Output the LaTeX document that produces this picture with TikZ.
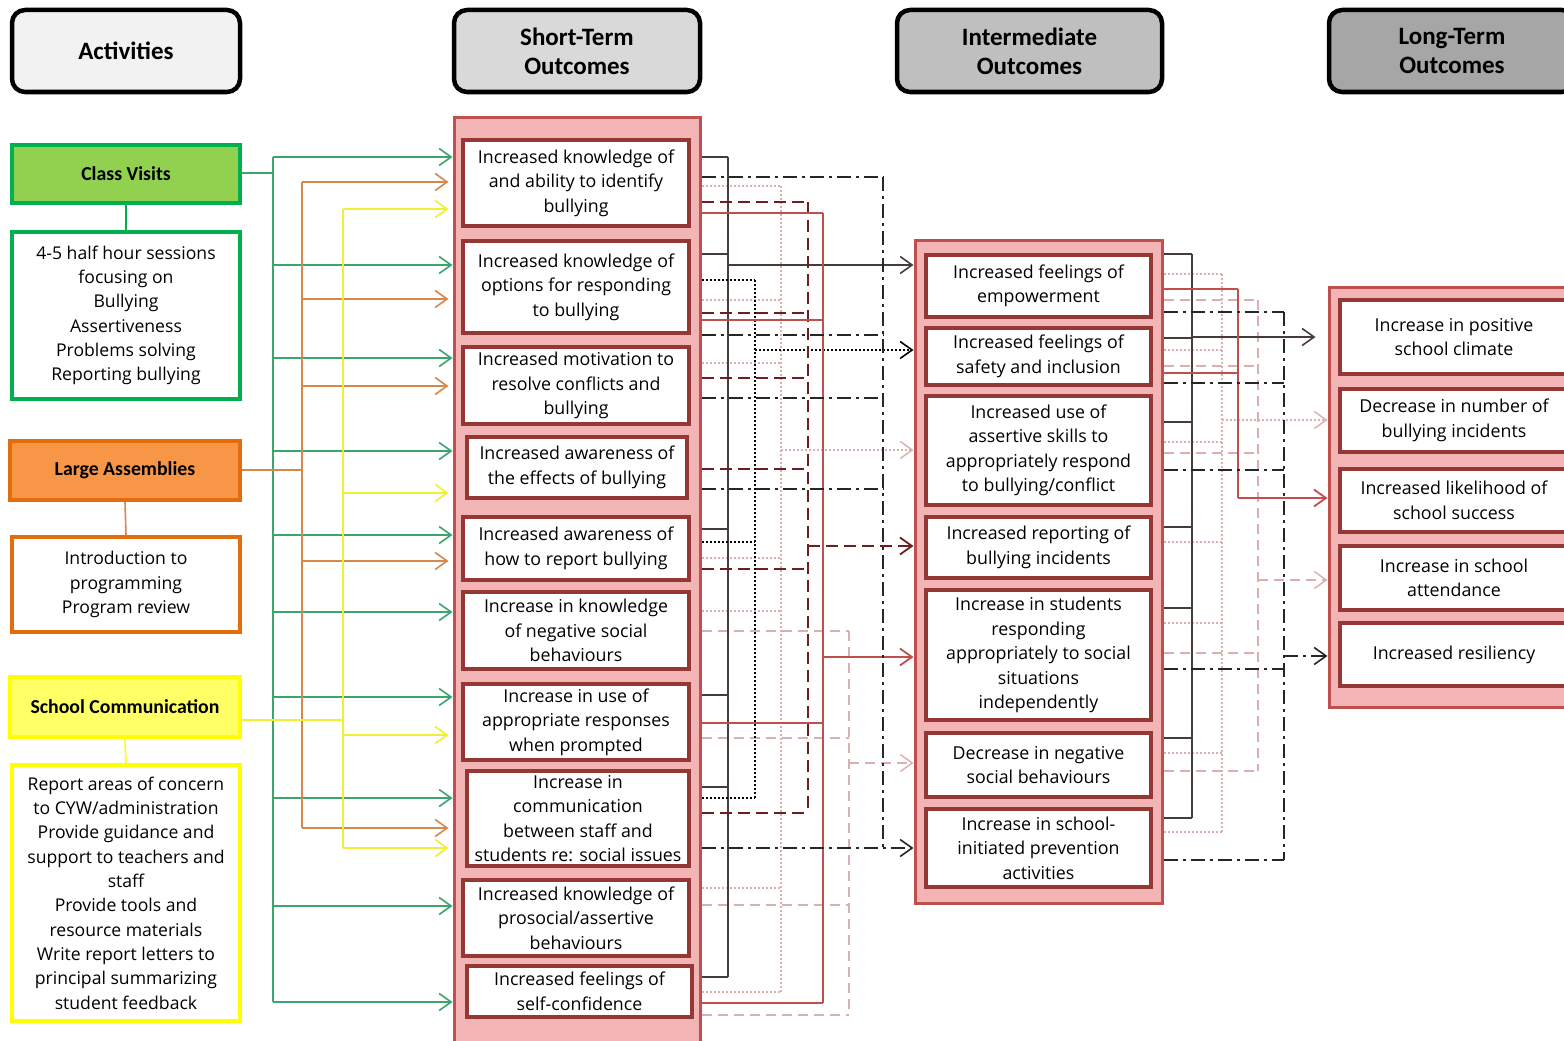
\documentclass[tikz,border=0pt]{standalone}
\usepackage{fontspec}
\setmainfont{Open Sans}
\newfontfamily\hdfont{Carlito}
\usetikzlibrary{arrows.meta}
\definecolor{hA}{RGB}{242,242,242}
\definecolor{hS}{RGB}{217,217,217}
\definecolor{hI}{RGB}{191,191,191}
\definecolor{hL}{RGB}{166,166,166}
\definecolor{cvf}{RGB}{146,208,80}
\definecolor{cvb}{RGB}{0,176,80}
\definecolor{laf}{RGB}{247,150,70}
\definecolor{lab}{RGB}{228,108,10}
\definecolor{scf}{RGB}{255,255,102}
\definecolor{scb}{RGB}{255,255,0}
\definecolor{contf}{RGB}{242,180,180}
\definecolor{contb}{RGB}{192,80,77}
\definecolor{obord}{RGB}{149,55,53}
\definecolor{grn}{RGB}{60,165,110}
\definecolor{org}{RGB}{214,135,75}
\definecolor{ylw}{RGB}{240,240,50}
\definecolor{dk}{RGB}{70,60,60}
\definecolor{dred}{RGB}{110,30,30}
\definecolor{rd}{RGB}{192,80,77}
\definecolor{pale}{RGB}{220,175,175}
\begin{document}
\begin{tikzpicture}[x=1pt,y=-1pt,
  hdr/.style={draw=black,line width=4.5pt,rounded corners=13pt,align=center,inner sep=0pt,font=\hdfont\fontsize{25}{29}\selectfont\bfseries},
  ttl/.style={line width=3.5pt,inner sep=0pt,font=\hdfont\fontsize{19.8}{24}\selectfont\bfseries},
  det/.style={fill=white,line width=3.5pt,align=center,inner sep=0pt,font=\fontsize{17.6}{24.3}\selectfont},
  cont/.style={draw=contb,fill=contf,line width=3pt,inner sep=0pt},
  ob/.style={draw=obord,fill=white,line width=4pt,align=center,inner sep=0pt,font=\fontsize{17.8}{24.5}\selectfont},
  arr/.style={-{Straight Barb[length=12pt,width=17pt]}},
  gln/.style={draw=grn,line width=1.6pt},
  oln/.style={draw=org,line width=1.6pt},
  yln/.style={draw=ylw,line width=1.6pt},
  sA/.style={draw=dk,line width=1.6pt},
  sB/.style={draw=black,line width=1.6pt,dash pattern=on 2pt off 2pt},
  sC/.style={draw=dred,line width=1.8pt,dash pattern=on 12pt off 6pt},
  sD/.style={draw=rd,line width=1.8pt},
  sE/.style={draw=black!85,line width=1.6pt,dash pattern=on 14pt off 5pt on 3pt off 5pt},
  sF/.style={draw=pale,line width=1.4pt,dash pattern=on 2pt off 2pt},
  sG/.style={draw=pale,line width=1.4pt,dash pattern=on 10pt off 6pt},
]
\useasboundingbox (0,0) rectangle (1564,1041);
\fill[white] (0,0) rectangle (1564,1041);

% headers
\node[hdr,fill=hA,minimum width=228pt,minimum height=82pt] (hAct) at (126,51) {Activities};
\node[hdr,fill=hS,minimum width=246pt,minimum height=82pt] (hST) at (577,51) {Short-Term\\Outcomes};
\node[hdr,fill=hI,minimum width=265pt,minimum height=82pt] (hIM) at (1029.5,51) {Intermediate\\Outcomes};
\node[hdr,fill=hL,minimum width=246pt,minimum height=82pt] (hLT) at (1452,51) {Long-Term\\Outcomes};

% activities
\node[ttl,draw=cvb,fill=cvf,minimum width=228pt,minimum height=58pt] (cv) at (126,174) {Class Visits};
\node[det,draw=cvb,minimum width=228pt,minimum height=167pt] (cvd) at (126,315.5) {4-5 half hour sessions\\focusing on\\Bullying\\Assertiveness\\Problems solving\\Reporting bullying};
\node[ttl,draw=lab,fill=laf,minimum width=230pt,minimum height=59pt] (la) at (125,470.5) {Large Assemblies};
\node[det,draw=lab,minimum width=228pt,minimum height=95pt] (lad) at (126,584.5) {Introduction to\\programming\\Program review};
\node[ttl,draw=scb,fill=scf,minimum width=230pt,minimum height=60pt] (sc) at (125,707) {School Communication};
\node[det,draw=scb,minimum width=228pt,minimum height=256pt] (scd) at (126,893) {Report areas of concern\\to CYW/administration\\Provide guidance and\\support to teachers and\\staff\\Provide tools and\\resource materials\\Write report letters to\\principal summarizing\\student feedback};
\draw[draw=cvb,line width=1.6pt] (cv.south) -- (cvd.north);
\draw[draw=org,line width=1.6pt] (la.south) -- (lad.north);
\draw[draw=scb,line width=1.6pt] (sc.south) -- (scd.north);

% containers
\node[cont,minimum width=246pt,minimum height=930pt] (stc) at (577,582) {};
\node[cont,minimum width=247pt,minimum height=663pt] (imc) at (1038.5,571.5) {};
\node[cont,minimum width=251pt,minimum height=420pt] (ltc) at (1454.5,497) {};

% short-term boxes
\node[ob,minimum width=226pt,minimum height=86pt] (st1) at (576,183) {Increased knowledge of\\and ability to identify\\bullying};
\node[ob,minimum width=226pt,minimum height=92pt] (st2) at (576,287) {Increased knowledge of\\options for responding\\to bullying};
\node[ob,minimum width=226pt,minimum height=77pt] (st3) at (576,385.5) {Increased motivation to\\resolve conflicts and\\bullying};
\node[ob,minimum width=220pt,minimum height=61pt] (st4) at (577,467.5) {Increased awareness of\\the effects of bullying};
\node[ob,minimum width=226pt,minimum height=63pt] (st5) at (576,548.5) {Increased awareness of\\how to report bullying};
\node[ob,minimum width=226pt,minimum height=77pt] (st6) at (576,630.5) {Increase in knowledge\\of negative social\\behaviours};
\node[ob,minimum width=226pt,minimum height=76pt] (st7) at (576,722) {Increase in use of\\appropriate responses\\when prompted};
\node[ob,minimum width=222pt,minimum height=95pt] (st8) at (578,818.5) {Increase in\\communication\\between staff and\\students re: social issues};
\node[ob,minimum width=226pt,minimum height=76pt] (st9) at (576,918) {Increased knowledge of\\prosocial/assertive\\behaviours};
\node[ob,minimum width=225pt,minimum height=51pt] (st10) at (579.5,991.5) {Increased feelings of\\self-confidence};

% intermediate boxes
\node[ob,minimum width=225pt,minimum height=62pt] (im1) at (1038.5,286) {Increased feelings of\\empowerment};
\node[ob,minimum width=225pt,minimum height=57pt] (im2) at (1038.5,356.5) {Increased feelings of\\safety and inclusion};
\node[ob,minimum width=225pt,minimum height=109pt] (im3) at (1038.5,450.5) {Increased use of\\assertive skills to\\appropriately respond\\to bullying/conflict};
\node[ob,minimum width=225pt,minimum height=61pt] (im4) at (1038.5,547.5) {Increased reporting of\\bullying incidents};
\node[ob,minimum width=225pt,minimum height=130pt] (im5) at (1038.5,655) {Increase in students\\responding\\appropriately to social\\situations\\independently};
\node[ob,minimum width=225pt,minimum height=64pt] (im6) at (1038.5,765) {Decrease in negative\\social behaviours};
\node[ob,minimum width=225pt,minimum height=78pt] (im7) at (1038.5,848) {Increase in school-\\initiated prevention\\activities};

% long-term boxes
\node[ob,minimum width=228pt,minimum height=74pt] (lt1) at (1454,337) {Increase in positive\\school climate};
\node[ob,minimum width=228pt,minimum height=63pt] (lt2) at (1454,420.5) {Decrease in number of\\bullying incidents};
\node[ob,minimum width=228pt,minimum height=63pt] (lt3) at (1454,500.5) {Increased likelihood of\\school success};
\node[ob,minimum width=228pt,minimum height=64pt] (lt4) at (1454,578) {Increase in school\\attendance};
\node[ob,minimum width=228pt,minimum height=63pt] (lt5) at (1454,654.5) {Increased resiliency};

% ---- activities -> short-term
\draw[gln] (cv.east |- 0,173) -- (273,173);
\draw[gln] (273,157) -- (273,1002);
\foreach \y in {157,265,358,451,535,612,697,798,906,1002}
  \draw[gln,arr] (273,\y) -- (stc.west |- 0,\y);
\draw[oln] (la.east |- 0,470) -- (302,470);
\draw[oln] (302,182) -- (302,828);
\foreach \y in {182,299,386,561,828}
  \draw[oln,arr] (302,\y) -- ([xshift=-4pt]stc.west |- 0,\y);
\draw[yln] (sc.east |- 0,720) -- (343,720);
\draw[yln] (343,209) -- (343,848);
\foreach \y in {209,493,735,848}
  \draw[yln,arr] (343,\y) -- ([xshift=-4pt]stc.west |- 0,\y);

% ---- short-term -> intermediate
\foreach \y in {186,300,363,558,611,888,992} \draw[sF] (stc.east |- 0,\y) -- (781,\y);
\draw[sF] (781,186) -- (781,992);
\draw[sF,arr] (781,450) -- (imc.west |- 0,450);
\foreach \y in {631,738,905,1015} \draw[sG] (stc.east |- 0,\y) -- (849,\y);
\draw[sG] (849,631) -- (849,1015);
\draw[sG,arr] (849,763) -- (imc.west |- 0,763);
\foreach \y in {157,254,529,695,787,977} \draw[sA] (stc.east |- 0,\y) -- (728,\y);
\draw[sA] (728,157) -- (728,977);
\draw[sA,arr] (728,265) -- (imc.west |- 0,265);
\foreach \y in {280,542,798} \draw[sB] (stc.east |- 0,\y) -- (755,\y);
\draw[sB] (755,280) -- (755,798);
\draw[sB,arr] (755,350) -- (imc.west |- 0,350);
\foreach \y in {202,313,378,469,569,813} \draw[sC] (stc.east |- 0,\y) -- (808,\y);
\draw[sC] (808,202) -- (808,813);
\draw[sC,arr] (808,546) -- (imc.west |- 0,546);
\foreach \y in {213,320,723,1003} \draw[sD] (stc.east |- 0,\y) -- (823,\y);
\draw[sD] (823,213) -- (823,1003);
\draw[sD,arr] (823,657) -- (imc.west |- 0,657);
\foreach \y in {177,335,398,489} \draw[sE] (stc.east |- 0,\y) -- (883,\y);
\draw[sE] (883,177) -- (883,848);
\draw[sE,arr] (stc.east |- 0,848) -- (imc.west |- 0,848);

% ---- intermediate -> long-term
\foreach \y in {274,350,442,542,623,753,832} \draw[sF] (imc.east |- 0,\y) -- (1222,\y);
\draw[sF] (1222,274) -- (1222,832);
\draw[sF,arr] (1222,420) -- (ltc.west |- 0,420);
\foreach \y in {300,366,453,653,771} \draw[sG] (imc.east |- 0,\y) -- (1258,\y);
\draw[sG] (1258,300) -- (1258,771);
\draw[sG,arr] (1258,580) -- (ltc.west |- 0,580);
\foreach \y in {254,338,422,527,608,738,818} \draw[sA] (imc.east |- 0,\y) -- (1192,\y);
\draw[sA] (1192,254) -- (1192,818);
\draw[sA,arr] (1192,337) -- ([xshift=-12pt]ltc.west |- 0,337);
\foreach \y in {289,373} \draw[sD] (imc.east |- 0,\y) -- (1238,\y);
\draw[sD] (1238,289) -- (1238,498);
\draw[sD,arr] (1238,498) -- (ltc.west |- 0,498);
\foreach \y in {312,383,470,669,860} \draw[sE] (imc.east |- 0,\y) -- (1284,\y);
\draw[sE] (1284,312) -- (1284,860);
\draw[sE,arr] (1284,656) -- (ltc.west |- 0,656);
\end{tikzpicture}
\end{document}
